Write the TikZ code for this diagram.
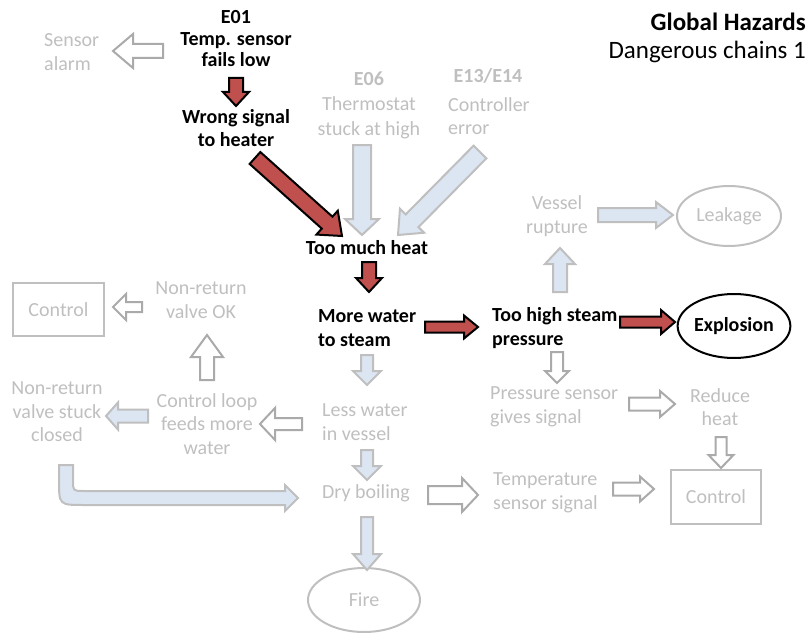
\documentclass[tikz,border=0pt]{standalone}
\usepackage{fontspec}
\setmainfont{Carlito}
\usetikzlibrary{calc,shapes.geometric}

\definecolor{hzred}{RGB}{192,80,77}
\definecolor{hzblue}{RGB}{220,230,242}
\definecolor{hzline}{RGB}{170,170,170}
\definecolor{hzline2}{RGB}{191,191,191}
\definecolor{hztext}{RGB}{191,191,191}

% block arrow: style, from, to, half shaft width, half head width, head length
\newcommand\barrow[6]{%
  \draw[#1] ($(#2)!#4!90:(#3)$) -- ($(#3)!#6!(#2)!#4!90:(#3)$) -- ($(#3)!#6!(#2)!#5!90:(#3)$)
    -- (#3) -- ($(#3)!#6!(#2)!#5!-90:(#3)$) -- ($(#3)!#6!(#2)!#4!-90:(#3)$)
    -- ($(#2)!#4!-90:(#3)$) -- cycle;}

\tikzset{
  txt/.style={inner sep=0pt, font=\fontsize{20}{23.5}\selectfont},
  hot/.style={txt, text=black, font=\fontsize{20}{23.5}\selectfont\bfseries},
  cold/.style={txt, text=hztext},
  redarr/.style={fill=hzred, draw=black, line width=2pt, line join=miter},
  bluearr/.style={fill=hzblue, draw=hzline2, line width=2pt, line join=miter},
  openarr/.style={fill=white, draw=hzline, line width=2pt, line join=miter},
  greybox/.style={cold, draw=hzline2, line width=2pt, rectangle},
  greyoval/.style={cold, draw=hzline2, line width=2pt, ellipse},
}

\begin{document}
\begin{tikzpicture}[x=1pt, y=-1pt]
\useasboundingbox (0,0) rectangle (812,634);

% title
\node[txt, anchor=east, font=\fontsize{25}{30}\selectfont\bfseries] (title) at (806,22) {Global Hazards};
\node[txt, anchor=east, font=\fontsize{25}{30}\selectfont] (subtitle) at (806,52) {Dangerous chains 1};

% event texts
\node[cold, anchor=west, align=left] (alarm) at (44,52) {Sensor\\alarm};
\node[hot, align=center, font=\fontsize{20}{21.5}\selectfont\bfseries] (e01) at (236,39) {E01\\Temp. sensor\\fails low};
\node[hot, align=center] (wrong) at (236,128) {Wrong signal\\to heater};
\node[cold, align=center, font=\fontsize{20}{25}\selectfont] (e06) at (369,105) {\textbf{E06}\\Thermostat\\stuck at high};
\node[cold, font=\fontsize{20}{23.5}\selectfont\bfseries] (e13) at (488,76) {E13/E14};
\node[cold, anchor=west, align=left] (ctrlerr) at (448,116) {Controller\\error};
\node[hot] (heat) at (367,248) {Too much heat};
\node[hot, anchor=west, align=left] (steam) at (318,328) {More water\\to steam};
\node[hot, anchor=west, align=left] (press) at (492,328) {Too high steam\\pressure};
\node[hot, ellipse, draw=black, line width=2pt, minimum width=110pt, minimum height=64pt] (expl) at (734,326) {Explosion};
\node[cold, align=center] (rupt) at (557,216) {Vessel\\rupture};
\node[greyoval, minimum width=104pt, minimum height=60pt] (leak) at (729,216) {Leakage};
\node[cold, anchor=west, align=left] (psens) at (490,407) {Pressure sensor\\gives signal};
\node[cold, align=center] (reduce) at (720,407) {Reduce\\heat};
\node[greybox, minimum width=90pt, minimum height=54pt] (ctrlB) at (716,497) {Control};
\node[cold, anchor=west, align=left] (tsens) at (493,493) {Temperature\\sensor signal};
\node[cold] (dry) at (366,493) {Dry boiling};
\node[greyoval, minimum width=112pt, minimum height=64pt] (fire) at (364,600) {Fire};
\node[cold, anchor=west, align=left] (less) at (322,422) {Less water\\in vessel};
\node[cold, align=center] (loop) at (207,424) {Control loop\\feeds more\\water};
\node[cold, align=center] (nrok) at (201,300) {Non-return\\valve OK};
\node[greybox, minimum width=91pt, minimum height=53pt] (ctrlA) at (58.5,309.5) {Control};
\node[cold, align=center] (nrstuck) at (57,412) {Non-return\\valve stuck\\closed};

% arrow end points
\coordinate (a1s) at (163,51);  \coordinate (a1e) at (113,51);
\coordinate (a2s) at (236,78);  \coordinate (a2e) at (236,106);
\coordinate (a3s) at (255,158); \coordinate (a3e) at (342,236);
\coordinate (a4s) at (362,145); \coordinate (a4e) at (362,235);
\coordinate (a5s) at (480,152); \coordinate (a5e) at (398,235);
\coordinate (a6s) at (369,262); \coordinate (a6e) at (369,292);
\coordinate (a7s) at (425,327); \coordinate (a7e) at (478,327);
\coordinate (a8s) at (620,322); \coordinate (a8e) at (675,322);
\coordinate (a9s) at (560,292); \coordinate (a9e) at (560,248);
\coordinate (a10s) at (598,215); \coordinate (a10e) at (673,215);
\coordinate (a11s) at (557,352); \coordinate (a11e) at (557,383);
\coordinate (a12s) at (629,404); \coordinate (a12e) at (675,404);
\coordinate (a13s) at (721,437); \coordinate (a13e) at (721,468);
\coordinate (a14s) at (613,489); \coordinate (a14e) at (654,489);
\coordinate (a15s) at (428,495); \coordinate (a15e) at (478,495);
\coordinate (a16s) at (367,517); \coordinate (a16e) at (367,570);
\coordinate (a17s) at (367,355); \coordinate (a17e) at (367,385);
\coordinate (a18s) at (367,450); \coordinate (a18e) at (367,480);
\coordinate (a19s) at (302,424); \coordinate (a19e) at (260,424);
\coordinate (a20s) at (207,380); \coordinate (a20e) at (207,335);
\coordinate (a21s) at (142,307); \coordinate (a21e) at (113,307);
\coordinate (a22s) at (148,416); \coordinate (a22e) at (106,416);

% dangerous chain (red)
\barrow{redarr}{a2s}{a2e}{7pt}{13pt}{14pt}
\barrow{redarr}{a3s}{a3e}{8pt}{16pt}{20pt}
\barrow{redarr}{a6s}{a6e}{7pt}{13pt}{14pt}
\barrow{redarr}{a7s}{a7e}{5.5pt}{11.5pt}{14pt}
\barrow{redarr}{a8s}{a8e}{5.5pt}{12pt}{14pt}

% other causes and consequences (blue)
\barrow{bluearr}{a4s}{a4e}{9pt}{17pt}{16pt}
\barrow{bluearr}{a5s}{a5e}{9pt}{17pt}{20pt}
\barrow{bluearr}{a9s}{a9e}{7pt}{15pt}{16pt}
\barrow{bluearr}{a10s}{a10e}{7pt}{13pt}{17pt}
\barrow{bluearr}{a16s}{a16e}{6pt}{14pt}{16pt}
\barrow{bluearr}{a17s}{a17e}{6pt}{14pt}{14pt}
\barrow{bluearr}{a18s}{a18e}{6pt}{14pt}{14pt}
\barrow{bluearr}{a22s}{a22e}{6.5pt}{13.5pt}{12pt}

% safeguards (hollow)
\barrow{openarr}{a1s}{a1e}{7pt}{17pt}{20pt}
\barrow{openarr}{a11s}{a11e}{6pt}{12pt}{12pt}
\barrow{openarr}{a12s}{a12e}{6.5pt}{13pt}{15pt}
\barrow{openarr}{a13s}{a13e}{5.5pt}{12.5pt}{13pt}
\barrow{openarr}{a14s}{a14e}{6.5pt}{12.5pt}{14pt}
\barrow{openarr}{a15s}{a15e}{9pt}{17pt}{16pt}
\barrow{openarr}{a19s}{a19e}{6pt}{16pt}{15pt}
\barrow{openarr}{a20s}{a20e}{7pt}{16pt}{22pt}
\barrow{openarr}{a21s}{a21e}{5pt}{13pt}{13pt}

% bent arrow from the stuck valve to dry boiling
\coordinate (bend) at (66,465);
\coordinate (bendtip) at (298,498);
\draw[bluearr] ($(bend)+(-7,0)$) -- ($(bend)+(-7,15)$)
  .. controls ($(bend)+(-7,40)$) .. ($(bend)+(18,40)$)
  -- ($(bendtip)+(-13,7)$) -- ($(bendtip)+(-13,13)$) -- (bendtip)
  -- ($(bendtip)+(-13,-13)$) -- ($(bendtip)+(-13,-7)$)
  -- ($(bend)+(18,26)$)
  .. controls ($(bend)+(7,26)$) .. ($(bend)+(7,15)$)
  -- ($(bend)+(7,0)$) -- cycle;
\end{tikzpicture}
\end{document}
